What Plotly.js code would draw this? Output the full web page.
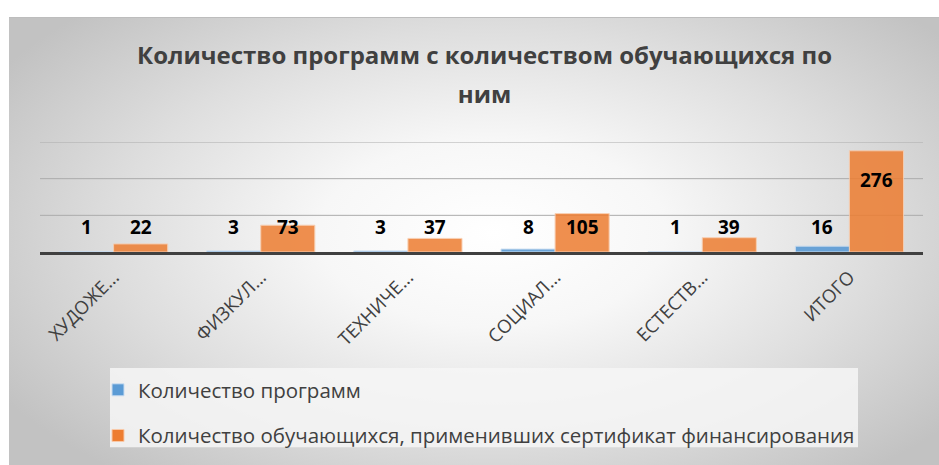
<!DOCTYPE html>
<html>
<head>
<meta charset="utf-8">
<script src="https://cdn.plot.ly/plotly-3.0.1.min.js"></script>
<style>
  html, body { margin: 0; padding: 0; background: #ffffff; }
  #frame {
    position: absolute; left: 9px; top: 17px; width: 930px; height: 448px;
    background: radial-gradient(ellipse 62% 70% at 52% 48%, #ffffff 0%, #f7f7f7 30%, #dedede 65%, #c2c2c2 100%);
    border-top: 1px solid #bdbdbd;
  }
  #chart { position: absolute; left: 0; top: 0; width: 939px; height: 465px; }
</style>
</head>
<body>
<div id="frame"></div>
<div id="chart"></div>
<script>
const categories = ["ХУДОЖЕ...", "ФИЗКУЛ...", "ТЕХНИЧЕ...", "СОЦИАЛ...", "ЕСТЕСТВ...", "ИТОГО"];
const programs = [1, 3, 3, 8, 1, 16];
const students = [22, 73, 37, 105, 39, 276];
const seriesNames = ["Количество программ", "Количество обучающихся, применивших сертификат финансирования"];
const titleText = "Количество программ с количеством обучающихся по<br>ним";
const gridValues = [100, 200, 300];

const font = "'Open Sans', 'Noto Sans', sans-serif";
const W = 939, H = 465, L = 40, R = 16, T = 142, B = 212;
const pw = W - L - R, ph = H - T - B;
const px = v => (v - L) / pw;          // pixel x -> paper
const py = v => (H - B - v) / ph;      // pixel y -> paper

const traces = [
  {
    type: "bar", x: categories, y: programs, name: seriesNames[0], legendgroup: "a",
    marker: { color: "#5B9BD5", opacity: 0.9, line: { color: "#c9dcf0", width: 1 } },
    hoverinfo: "skip"
  },
  {
    type: "bar", x: categories, y: students, name: seriesNames[1], legendgroup: "b",
    marker: { color: "#ED7D31", opacity: 0.85, line: { color: "#f8c9a8", width: 1 } },
    hoverinfo: "skip"
  }
];

function labelY(v) { return v > 150 ? v - 79 : 68; }
const annotations = [];
categories.forEach((c, i) => {
  annotations.push({ x: c, y: labelY(programs[i]), text: String(programs[i]), showarrow: false,
    xshift: -27, font: { family: font, size: 19, color: "#000000", weight: "bold" } });
  annotations.push({ x: c, y: labelY(students[i]), text: String(students[i]), showarrow: false,
    xshift: 27, font: { family: font, size: 19, color: "#000000", weight: "bold" } });
});

const shapes = [{
  type: "rect", xref: "paper", yref: "paper", layer: "below",
  x0: px(110), x1: px(858), y0: py(370), y1: py(450),
  fillcolor: "rgba(246,246,246,0.85)", line: { width: 0 }
}];
gridValues.forEach(g => shapes.push({
  type: "line", xref: "paper", yref: "y", layer: "below",
  x0: 0, x1: 1, y0: g, y1: g, line: { color: "#ababab", width: 1 }
}));

const layout = {
  width: W, height: H,
  paper_bgcolor: "rgba(0,0,0,0)", plot_bgcolor: "rgba(0,0,0,0)",
  margin: { l: L, r: R, t: T, b: B },
  title: {
    text: "<span style='font-size:24px'>" + titleText + "</span>",
    x: 0.516, xanchor: "center", y: 0.862, yanchor: "top",
    font: { family: font, size: 30, color: "#404040", weight: "bold" }
  },
  barmode: "group", bargap: 0.265, bargroupgap: 0,
  xaxis: {
    type: "category", showline: true, linecolor: "#404040", linewidth: 3,
    ticks: "", tickangle: -45, showgrid: false, automargin: false, ticklabelstandoff: 4,
    tickfont: { family: font, size: 18.5, color: "#404040" }
  },
  yaxis: {
    range: [0, 300], showticklabels: false, zeroline: false,
    showgrid: false, automargin: false
  },
  showlegend: true,
  legend: {
    x: px(98), y: py(370), xanchor: "left", yanchor: "top",
    bgcolor: "rgba(0,0,0,0)", orientation: "v", tracegroupgap: 16,
    font: { family: font, size: 20.5, color: "#404040" }
  },
  shapes: shapes,
  annotations: annotations
};

Plotly.newPlot("chart", traces, layout, { displayModeBar: false, staticPlot: true });
</script>
</body>
</html>
